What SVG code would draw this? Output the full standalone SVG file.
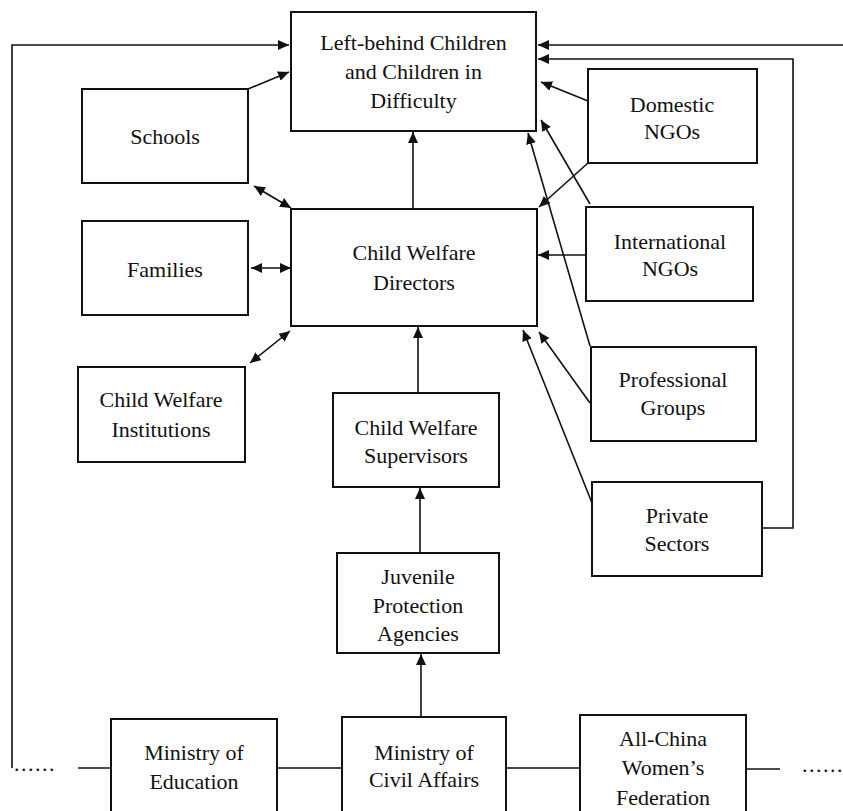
<svg xmlns="http://www.w3.org/2000/svg" width="843" height="811" viewBox="0 0 843 811">
<defs>
<style>
.box{fill:#fff;stroke:#111;stroke-width:2}
.t{font-family:"Liberation Serif","Times New Roman",serif;font-size:22px;fill:#111;text-anchor:middle}
.c{fill:none;stroke:#111;stroke-width:1.6}
.a{marker-end:url(#ah)}
.d{marker-start:url(#ah);marker-end:url(#ah)}
</style>
<marker id="ah" markerUnits="userSpaceOnUse" markerWidth="12" markerHeight="10" refX="11" refY="5" orient="auto-start-reverse">
<path d="M0,0 L11,5 L0,10 z" fill="#111"/>
</marker>
</defs>
<rect width="843" height="811" fill="#fff"/>
<g id="connectors">
<polyline class="c a" points="12,768 12,45 289,45"/>
<line class="c a" x1="843" y1="45" x2="538" y2="45"/>
<polyline class="c a" points="762,528 793,528 793,59 538,59"/>
<line class="c a" x1="248" y1="89" x2="289" y2="72"/>
<line class="c d" x1="254" y1="186" x2="291" y2="208"/>
<line class="c d" x1="251" y1="268" x2="291" y2="268"/>
<line class="c d" x1="250" y1="363" x2="290" y2="331"/>
<line class="c a" x1="413" y1="209" x2="413" y2="132"/>
<line class="c a" x1="418" y1="393" x2="418" y2="327"/>
<line class="c a" x1="420" y1="553" x2="420" y2="488"/>
<line class="c a" x1="421" y1="717" x2="421" y2="654"/>
<line class="c a" x1="588" y1="101" x2="541" y2="82"/>
<line class="c a" x1="588" y1="163" x2="539" y2="207"/>
<line class="c a" x1="590" y1="204" x2="541" y2="120"/>
<line class="c a" x1="586" y1="255" x2="538" y2="255"/>
<line class="c a" x1="590" y1="346" x2="528" y2="133"/>
<line class="c a" x1="590" y1="403" x2="539" y2="332"/>
<line class="c a" x1="592" y1="503" x2="523" y2="330"/>
<line class="c" x1="78" y1="768" x2="111" y2="768"/>
<line class="c" x1="277" y1="768" x2="342" y2="768"/>
<line class="c" x1="506" y1="768" x2="580" y2="768"/>
<line class="c" x1="746" y1="769" x2="780" y2="769"/>
</g>
<g id="dots">
<text class="t" x="14" y="771" style="text-anchor:start;letter-spacing:1.5px">......</text>
<text class="t" x="802" y="772" style="text-anchor:start;letter-spacing:1.5px">......</text>
</g>
<g id="n-left-behind">
<rect class="box" x="291" y="12" width="245" height="119"/>
<text class="t" x="413.5" y="50">Left-behind Children</text>
<text class="t" x="413.5" y="79">and Children in</text>
<text class="t" x="413.5" y="108">Difficulty</text>
</g>
<g id="n-schools">
<rect class="box" x="82" y="89" width="166" height="94"/>
<text class="t" x="165" y="144">Schools</text>
</g>
<g id="n-domestic">
<rect class="box" x="588" y="69" width="169" height="94"/>
<text class="t" x="672" y="112">Domestic</text>
<text class="t" x="672" y="139">NGOs</text>
</g>
<g id="n-families">
<rect class="box" x="82" y="221" width="166" height="94"/>
<text class="t" x="165" y="277">Families</text>
</g>
<g id="n-directors">
<rect class="box" x="291" y="209" width="246" height="117"/>
<text class="t" x="414" y="260">Child Welfare</text>
<text class="t" x="414" y="290">Directors</text>
</g>
<g id="n-international">
<rect class="box" x="586" y="207" width="167" height="94"/>
<text class="t" x="670" y="249">International</text>
<text class="t" x="670" y="276">NGOs</text>
</g>
<g id="n-institutions">
<rect class="box" x="78" y="367" width="167" height="95"/>
<text class="t" x="161" y="407">Child Welfare</text>
<text class="t" x="161" y="437">Institutions</text>
</g>
<g id="n-professional">
<rect class="box" x="591" y="347" width="165" height="94"/>
<text class="t" x="673" y="387">Professional</text>
<text class="t" x="673" y="415">Groups</text>
</g>
<g id="n-supervisors">
<rect class="box" x="333" y="393" width="166" height="94"/>
<text class="t" x="416" y="435">Child Welfare</text>
<text class="t" x="416" y="463">Supervisors</text>
</g>
<g id="n-private">
<rect class="box" x="592" y="482" width="170" height="94"/>
<text class="t" x="677" y="523">Private</text>
<text class="t" x="677" y="551">Sectors</text>
</g>
<g id="n-juvenile">
<rect class="box" x="337" y="553" width="162" height="100"/>
<text class="t" x="418" y="584">Juvenile</text>
<text class="t" x="418" y="613">Protection</text>
<text class="t" x="418" y="641">Agencies</text>
</g>
<g id="n-education">
<rect class="box" x="111" y="719" width="166" height="100"/>
<text class="t" x="194" y="760">Ministry of</text>
<text class="t" x="194" y="789">Education</text>
</g>
<g id="n-civil">
<rect class="box" x="342" y="717" width="164" height="102"/>
<text class="t" x="424" y="760">Ministry of</text>
<text class="t" x="424" y="787">Civil Affairs</text>
</g>
<g id="n-women">
<rect class="box" x="580" y="715" width="166" height="104"/>
<text class="t" x="663" y="746">All-China</text>
<text class="t" x="663" y="775">Women’s</text>
<text class="t" x="663" y="805">Federation</text>
</g>
</svg>
